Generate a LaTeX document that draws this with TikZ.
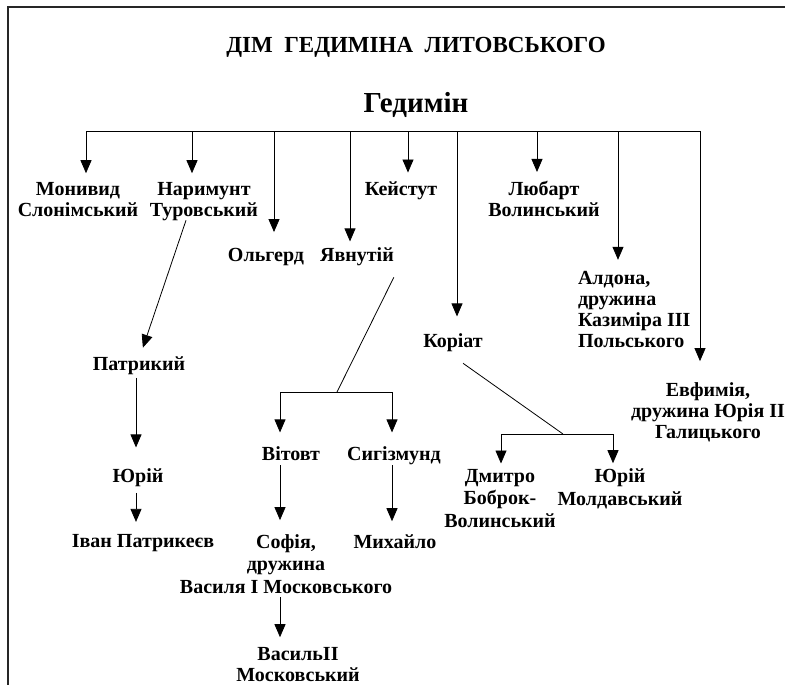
\documentclass[tikz,border=0pt]{standalone}
\usepackage{fontspec}
\setmainfont{Liberation Serif}
\usetikzlibrary{arrows.meta, calc}

\begin{document}
\begin{tikzpicture}[x=1pt, y=-1pt,
        every node/.style={font=\bfseries\fontsize{20}{21}\selectfont, inner sep=0pt, outer sep=0pt},
        person/.style={anchor=base, align=center},
        loose/.style={font=\bfseries\fontsize{20}{22.5}\selectfont},
        ln/.style={line width=0.8pt},
        arr/.style={ln, -{Triangle[width=11pt, length=13pt]}}]
        \useasboundingbox (0,0) rectangle (785,685);
        \draw[line width=2pt, black!85] (7.5,685) -- (7.5,7.5) -- (785,7.5);

        \node[anchor=base] (title) at (416,53) {\fontsize{23}{25}\selectfont ДІМ~~ГЕДИМІНА~~ЛИТОВСЬКОГО};
        \node[anchor=base] (ged) at (416,112) {\fontsize{29}{31}\selectfont Гедимін};

        \node[person] (mon) at (78,216) {Монивид\\Слонімський};
        \node[person] (nar) at (204,216) {Наримунт\\Туровський};
        \node[person] (olg) at (266,261) {Ольгерд};
        \node[person] (yav) at (357,261) {Явнутій};
        \node[person] (kei) at (401,195) {Кейстут};
        \node[person] (kor) at (453,347) {Коріат};
        \node[person] (lub) at (544,216) {Любарт\\Волинський};
        \node[person, anchor=base west, align=left] (ald) at (578,347) {Алдона,\\дружина\\Казиміра III\\Польського};
        \node[person] (evf) at (708,438) {Евфимія,\\дружина Юрія II\\Галицького};
        \node[person] (pat) at (139,370) {Патрикий};
        \node[person] (yur) at (138,482) {Юрій};
        \node[person] (iva) at (143,547) {Іван Патрикеєв};
        \node[person] (vit) at (291,460) {Вітовт};
        \node[person] (sig) at (394,460) {Сигізмунд};
        \node[person, loose] (sof) at (286,593) {Софія,\\дружина\\Василя І Московського};
        \node[person] (mik) at (395,548) {Михайло};
        \node[person] (vas) at (298,681) {ВасильII\\Московський};
        \node[person, loose] (dmi) at (500,527) {Дмитро\\Боброк-\\Волинський};
        \node[person, loose] (yum) at (620,505) {Юрій\\Молдавський};

        \coordinate (b1) at (86,131);
        \coordinate (b2) at (192,131);
        \coordinate (b3) at (274,131);
        \coordinate (b4) at (350,131);
        \coordinate (b5) at (408,131);
        \coordinate (b6) at (457,131);
        \coordinate (b7) at (537,131);
        \coordinate (b8) at (618,131);
        \coordinate (b9) at (700,131);
        \draw[ln] (b1) -- (b9);
        \draw[arr, shorten >=8.7pt] (b1) -- (b1 |- mon.north);
        \draw[arr, shorten >=8.7pt] (b2) -- (b2 |- nar.north);
        \draw[arr, shorten >=15.7pt] (b3) -- (b3 |- olg.north);
        \draw[arr, shorten >=5.7pt] (b4) -- (b4 |- yav.north);
        \draw[arr, shorten >=8.7pt] (b5) -- (b5 |- kei.north);
        \draw[arr, shorten >=16.7pt] (b6) -- (b6 |- kor.north);
        \draw[arr, shorten >=8.7pt] (b7) -- (b7 |- lub.north);
        \draw[arr, shorten >=11pt] (b8) -- (b8 |- ald.north);
        \draw[arr, shorten >=21pt] (b9) -- (b9 |- evf.north);

        \draw[arr, shorten >=9pt] ([xshift=-18pt]nar.south) -- ([xshift=1pt]pat.north);
        \draw[arr, shorten <=3.6pt, shorten >=20.7pt] ([xshift=-3pt]pat.south) -- ([xshift=-2pt]yur.north);
        \draw[arr, shorten <=6.6pt, shorten >=12pt] ([xshift=-2pt]yur.south) -- ([xshift=-7pt]iva.north);

        \coordinate (kst) at ([yshift=-12pt]yav.south east);
        \coordinate (kbr) at (337,392);
        \draw[ln] (kst) -- (kbr);
        \draw[arr, shorten >=13.7pt] (kbr) -| ([xshift=-11pt]vit.north);
        \draw[arr, shorten >=13.7pt] (kbr) -| ([xshift=-2pt]sig.north);
        \draw[arr, shorten <=5pt, shorten >=14pt] ([xshift=-11pt]vit.south) -- ([xshift=-6pt]sof.north);
        \draw[arr, shorten <=1pt, shorten >=13pt] ([xshift=-2pt]sig.south) -- ([xshift=-3pt]mik.north);
        \draw[arr, shorten <=4pt, shorten >=9.7pt] ([xshift=-6pt]sof.south) -- ([xshift=-18pt]vas.north);

        \coordinate (kor2) at ([xshift=10pt, yshift=-12pt]kor.south);
        \coordinate (kbr2) at (563,434);
        \draw[ln] (kor2) -- (kbr2);
        \draw[arr, shorten >=5.4pt] (kbr2) -| ([xshift=1pt]dmi.north);
        \draw[arr, shorten >=5.4pt] (kbr2) -| ([xshift=-7pt]yum.north);
\end{tikzpicture}
\end{document}
